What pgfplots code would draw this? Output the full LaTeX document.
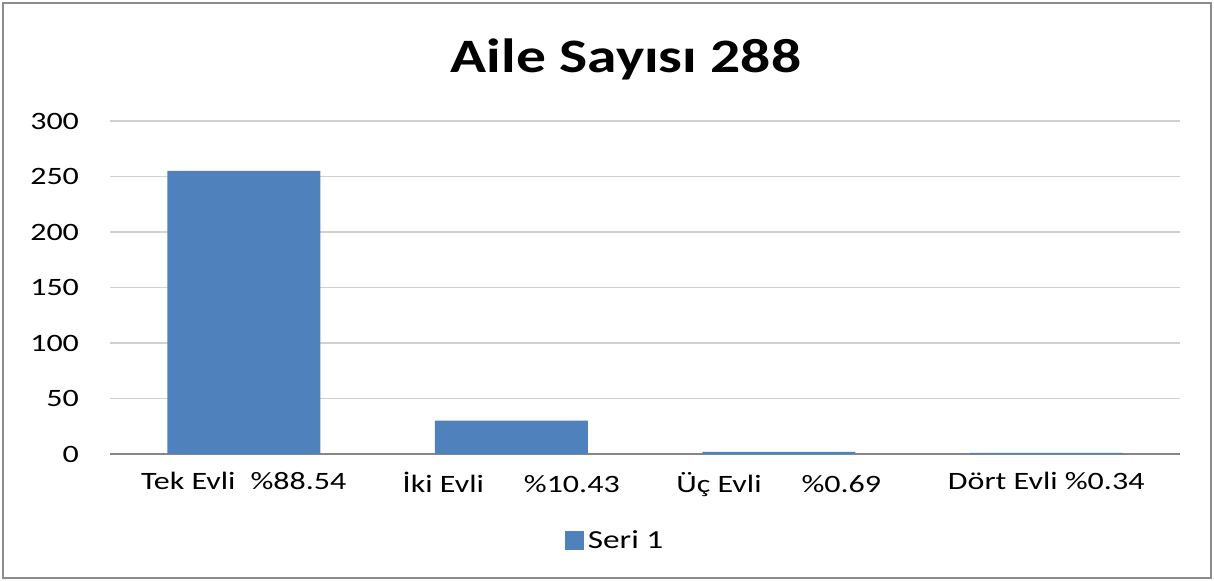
\documentclass[border=0pt]{standalone}
\usepackage{pgfplots}
\pgfplotsset{compat=1.18}
\usepackage{fontspec}
\setmainfont[FakeStretch=1.28]{Carlito}
\newfontfamily\titlefont[FakeStretch=1.24]{Carlito}
\definecolor{barblue}{HTML}{4F81BD}
\definecolor{gridgray}{HTML}{D0D0D0}
\definecolor{axgray}{HTML}{868686}
\definecolor{bordergray}{HTML}{8C8C8C}
\begin{document}
\begin{tikzpicture}[x=1pt,y=1pt]
\useasboundingbox (0,0) rectangle (607,290.5);
\draw[bordergray, line width=1pt] (1.5,1.5) rectangle (605.5,289);
\node[anchor=base, font=\fontsize{24}{28}\selectfont\titlefont\bfseries] at (313,254) {Aile Sayısı 288};
\begin{axis}[
  at={(55pt,63.5pt)}, anchor=south west,
  scale only axis, width=535pt, height=166.5pt,
  ybar, bar width=76.5pt,
  xmin=-0.5, xmax=3.5, ymin=0, ymax=300,
  ytick={0,50,...,300},
  xtick=data,
  xticklabels={Tek Evli\hspace{0.6em}\%88.54, İki Evli\hspace{1.6em}\%10.43, Üç Evli\hspace{1.6em}\%0.69, Dört Evli \%0.34},
  axis x line*=bottom, axis y line*=left,
  y axis line style={draw=none},
  x axis line style={axgray, line width=0.6pt, -},
  ymajorgrids, grid style={gridgray, line width=0.6pt},
  major tick length=0pt,
  ytick style={draw=none}, xtick style={draw=none},
  ticklabel style={font=\fontsize{12.5}{15}\selectfont, text=black},
  yticklabel style={anchor=east, xshift=-12pt},
  xticklabel style={anchor=north, yshift=-5.5pt},
  /pgf/number format/assume math mode=true,
  legend style={draw=none, at={(0.473,-0.261)}, anchor=center, font=\fontsize{13}{15}\selectfont, legend cell align=left},
  legend image code/.code={\fill[#1] (0pt,-4.75pt) rectangle (9.5pt,4.75pt);},
  clip=false,
]
\addplot[fill=barblue, draw=none] coordinates {(0,255) (1,30) (2,2) (3,1)};
\addlegendentry{Seri 1}
\end{axis}
\end{tikzpicture}
\end{document}
